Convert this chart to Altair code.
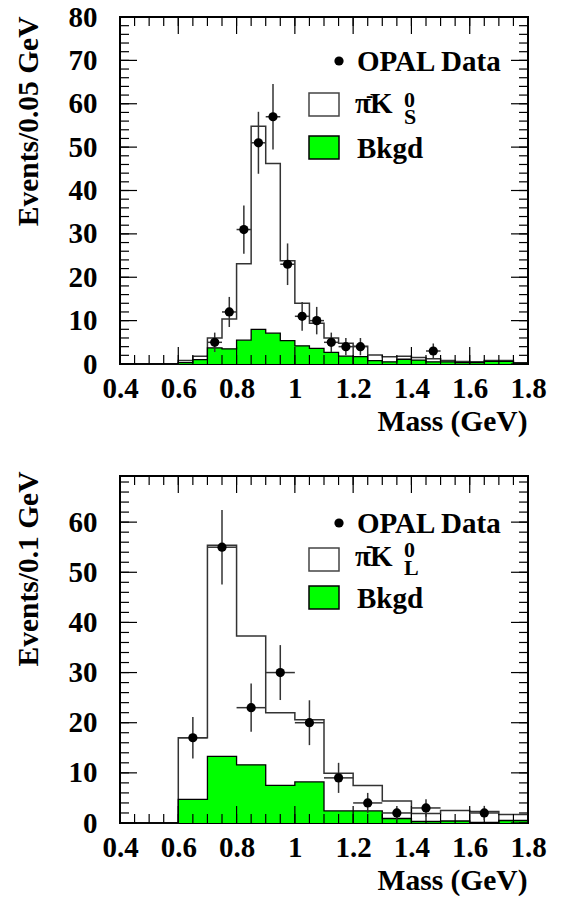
import altair as alt
import numpy as np
import pandas as pd

FONT = "Liberation Serif"
W, H = 408, 347
X_MIN, X_MAX = 0.4, 1.8
X_LABELS = [0.4, 0.6, 0.8, 1.0, 1.2, 1.4, 1.6, 1.8]
X_TITLE = "Mass (GeV)"

# ---- top panel: pi- K0_S, 0.05 GeV bins starting at 0.4 ----
ks_bin_width = 0.05
ks_total = [0, 0, 0, 0, 0.8, 1.8, 6.0, 10.4, 23.1, 54.8, 46.2, 23.8, 14.0, 9.4,
            6.0, 4.8, 4.1, 2.1, 1.7, 1.8, 1.5, 1.2, 0.8, 0.6, 0.5, 0.8, 0.8, 0.3]
ks_bkgd = [0, 0, 0, 0, 0.3, 1.0, 3.7, 3.5, 5.5, 8.0, 7.1, 5.4, 4.2, 3.6,
           2.7, 1.8, 1.7, 0.8, 0.5, 1.1, 0.9, 0.5, 0.5, 0.3, 0.3, 0.6, 0.6, 0.2]
ks_data_mass = [0.725, 0.775, 0.825, 0.875, 0.925, 0.975, 1.025, 1.075, 1.125, 1.175, 1.225, 1.475]
ks_data_n = [5, 12, 31, 51, 57, 23, 11, 10, 5, 4, 4, 3]
ks_y_max = 80
ks_y_labels = [0, 10, 20, 30, 40, 50, 60, 70, 80]
ks_y_title = "Events/0.05 GeV"
ks_sub = "S"

# ---- bottom panel: pi- K0_L, 0.1 GeV bins starting at 0.4 ----
kl_bin_width = 0.1
kl_total = [0, 0, 17.0, 55.4, 37.3, 22.0, 20.6, 9.9, 7.5, 4.4, 1.9, 2.5, 2.3, 1.7]
kl_bkgd = [0, 0, 4.7, 13.3, 11.6, 7.5, 8.2, 2.4, 2.4, 0.9, 0.3, 0.4, 0.1, 0.5]
kl_data_mass = [0.65, 0.75, 0.85, 0.95, 1.05, 1.15, 1.25, 1.35, 1.45, 1.65]
kl_data_n = [17, 55, 23, 30, 20, 9, 4, 2, 3, 2]
kl_y_max = 69.2
kl_y_labels = [0, 10, 20, 30, 40, 50, 60]
kl_y_title = "Events/0.1 GeV"
kl_sub = "L"

LBL = 29      # tick label size
TTL = 29.5    # axis title size


def txt(s, x, y, size=29, align="left"):
    return alt.Chart(pd.DataFrame({"a": [0]})).mark_text(
        font=FONT, fontSize=size, fontWeight="bold", color="black",
        align=align, baseline="alphabetic"
    ).encode(x=alt.value(x), y=alt.value(y), text=alt.value(s))


def box(x0, x1, y0, y1, fill, stroke):
    return alt.Chart(pd.DataFrame({"a": [0]})).mark_rect(
        fill=fill, stroke=stroke, strokeWidth=1.5
    ).encode(x=alt.value(x0), x2=alt.value(x1), y=alt.value(y0), y2=alt.value(y1))


def panel(bin_w, total, bkgd, dmass, dn, ymax, ylabels, ytitle, sub, lg, title_y):
    n = len(total)
    edges = np.round(X_MIN + bin_w * np.arange(n + 1), 3)
    hist = pd.DataFrame({"x": edges, "total": total + [total[-1]], "bkgd": bkgd + [bkgd[-1]]})
    dn_arr = np.array(dn, dtype=float)
    err = np.sqrt(dn_arr)
    pts = pd.DataFrame({
        "m": dmass, "n": dn,
        "lo": dn_arr - err, "hi": dn_arr + err,
        "mlo": np.array(dmass) - bin_w / 2, "mhi": np.array(dmass) + bin_w / 2,
    })
    xs = alt.Scale(domain=[X_MIN, X_MAX], nice=False, zero=False)
    ys = alt.Scale(domain=[0, ymax], nice=False, zero=True)

    x_axis = alt.Axis(
        values=X_LABELS, format="~g", title=X_TITLE, grid=False, domain=False,
        ticks=False, labelPadding=10, labelFlush=False, labelOverlap=False,
        labelFont=FONT, labelFontSize=LBL, labelFontWeight="bold", labelColor="black",
        titleFont=FONT, titleFontSize=TTL, titleFontWeight="bold", titleColor="black",
        titleX=W - 1, titleY=66, titleAlign="right", titleBaseline="alphabetic",
    )
    y_axis = alt.Axis(
        values=ylabels, format="d", title=ytitle, grid=False, domain=False,
        ticks=False, labelPadding=23, labelFlush=False, labelOverlap=False,
        labelFont=FONT, labelFontSize=LBL, labelFontWeight="bold", labelColor="black",
        titleFont=FONT, titleFontSize=TTL, titleFontWeight="bold", titleColor="black",
        titleX=-83, titleY=title_y, titleAlign="right", titleBaseline="alphabetic", titleAngle=270,
    )

    def X(field):
        return alt.X(field, type="quantitative", scale=xs, axis=x_axis)

    def Y(field):
        return alt.Y(field, type="quantitative", scale=ys, axis=y_axis)

    def tick_rules(vals, orient, length):
        df = pd.DataFrame({"v": vals})
        if orient in ("bottom", "top"):
            enc = dict(x=X("v"))
            if orient == "bottom":
                enc.update(y=alt.value(H), y2=alt.value(H - length))
            else:
                enc.update(y=alt.value(0), y2=alt.value(length))
        else:
            enc = dict(y=Y("v"))
            if orient == "left":
                enc.update(x=alt.value(0), x2=alt.value(length))
            else:
                enc.update(x=alt.value(W), x2=alt.value(W - length))
        return alt.Chart(df).mark_rule(color="black", strokeWidth=1.2).encode(**enc)

    total_line = alt.Chart(hist).mark_line(
        interpolate="step-after", color="#333333", strokeWidth=1.5
    ).encode(x=X("x"), y=Y("total"))
    bk_area = alt.Chart(hist).mark_area(
        interpolate="step-after", color="#00ff00", opacity=1
    ).encode(x=X("x"), y=Y("bkgd"))
    bk_line = alt.Chart(hist).mark_line(
        interpolate="step-after", color="black", strokeWidth=1.3
    ).encode(x=X("x"), y=Y("bkgd"))

    minor_x = list(np.round(np.arange(X_MIN, X_MAX + 1e-9, 0.05), 3))
    minor_y = list(np.arange(0, ymax + 1e-9, 2))
    ticks = [
        tick_rules(X_LABELS, "bottom", 17), tick_rules(minor_x, "bottom", 9),
        tick_rules(X_LABELS, "top", 17), tick_rules(minor_x, "top", 9),
        tick_rules(ylabels, "left", 17), tick_rules(minor_y, "left", 9),
        tick_rules(ylabels, "right", 17), tick_rules(minor_y, "right", 9),
    ]

    ebar_v = alt.Chart(pts).mark_rule(color="#333333", strokeWidth=1.5).encode(
        x=X("m"), y=Y("lo"), y2="hi:Q")
    ebar_h = alt.Chart(pts).mark_rule(color="#333333", strokeWidth=1.5).encode(
        x=X("mlo"), x2="mhi:Q", y=Y("n"))
    dots = alt.Chart(pts).mark_circle(color="black", opacity=1, size=85).encode(
        x=X("m"), y=Y("n"))

    # legend (decoration)
    legend = [
        alt.Chart(pd.DataFrame({"a": [0]})).mark_circle(color="black", opacity=1, size=85).encode(
            x=alt.value(219), y=alt.value(lg["dot"])),
        txt("OPAL Data", 237, lg["data"]),
        box(189, 219, lg["wbox"], lg["wbox"] + 23, "white", "#444444"),
        txt("π", 235, lg["k"]),
        txt("-", 246, lg["sup"] - 5, size=22),
        txt("K", 250, lg["k"]),
        txt("0", 284, lg["sup"], size=22),
        txt(sub, 284, lg["sub"], size=22),
        box(189, 219, lg["gbox"], lg["gbox"] + 23, "#00ff00", "black"),
        txt("Bkgd", 237, lg["bkgd"]),
    ]

    return alt.layer(
        total_line, bk_area, bk_line, *ticks, ebar_v, ebar_h, dots, *legend
    ).properties(width=W, height=H)


top = panel(ks_bin_width, ks_total, ks_bkgd, ks_data_mass, ks_data_n, ks_y_max,
            ks_y_labels, ks_y_title, ks_sub,
            dict(dot=44, data=54, wbox=76, k=96, sup=90, sub=107, gbox=119, bkgd=141),
            title_y=-1)
bottom = panel(kl_bin_width, kl_total, kl_bkgd, kl_data_mass, kl_data_n, kl_y_max,
               kl_y_labels, kl_y_title, kl_sub,
               dict(dot=47, data=57, wbox=72, k=90, sup=81, sub=99, gbox=110, bkgd=132),
               title_y=-5)

chart = alt.vconcat(top, bottom, spacing=112, bounds="flush").properties(
    padding={"left": 12, "top": 2, "right": 0, "bottom": 0},
).configure_view(stroke="black", strokeWidth=2)

chart.save("out.html", embed_options={"renderer": "svg", "actions": False})
